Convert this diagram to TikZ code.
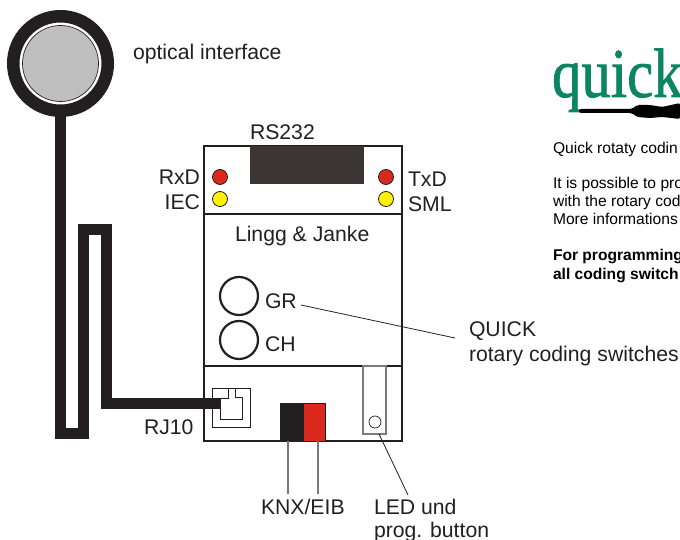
\documentclass[tikz,border=0pt]{standalone}
\usepackage{fontspec}
\setmainfont{Liberation Sans}
\newfontfamily\logofont[FakeBold=1.2]{Liberation Serif}
\definecolor{ink}{HTML}{231F20}
\definecolor{plug}{HTML}{3B3533}
\definecolor{ledred}{HTML}{DC291E}
\definecolor{ledyellow}{HTML}{FFF200}
\definecolor{logogreen}{HTML}{0B8562}
\tikzset{
	lbl/.style={anchor=base west,inner sep=0,outer sep=0,text=ink,font=\fontsize{21.2}{21.2}\selectfont},
	note/.style={anchor=base west,inner sep=0,outer sep=0,text=black,font=\fontsize{15.6}{15.6}\selectfont},
	boldnote/.style={note,font=\bfseries\fontsize{15.6}{15.6}\selectfont},
	led/.style={circle,draw=ink,line width=0.8,minimum size=15,inner sep=0,outer sep=0},
	knob/.style={circle,draw=ink,line width=2.2,minimum size=38,inner sep=0,outer sep=0},
	cable/.style={line width=11,draw=ink,line join=miter,line cap=butt},
	casing/.style={draw=ink,line width=2.2},
	leader/.style={draw=ink,line width=0.8},
	pin/.style={draw=ink!60,line width=1.4},
}
\begin{document}
\begin{tikzpicture}[x=1pt,y=-1pt]
		\path[use as bounding box,clip] (0,0) rectangle (680,540);

		%% optical head
		\node[circle,draw=ink,line width=12.5,fill=white,minimum size=94.5,inner sep=0,outer sep=0] at (60.5,63.5)(ring){};
		\node[circle,draw=ink,line width=0.7,fill=black!25,minimum size=76,inner sep=0,outer sep=0] at (60.5,63.5)(lens){};
		\node[lbl] at (133,59.5)(optical){optical interface};

		%% casing
		\draw[casing] (204,146) rectangle (402,441);
		\draw[casing] (204,214)--(402,214);
		\draw[casing] (204,366)--(402,366);
		\node[fill=plug,minimum width=114,minimum height=38,inner sep=0,outer sep=0] at (307,165)(rs){};
		\node[lbl] at (250,139.5)(rstext){RS232};

		\node[led,fill=ledred] at (220,177)(rxd){};
		\node[led,fill=ledyellow] at (220,199)(iec){};
		\node[led,fill=ledred] at (386,177)(txd){};
		\node[led,fill=ledyellow] at (386,199)(sml){};
		\node[lbl,anchor=base east] at (200,184.5)(rxdtext){RxD};
		\node[lbl,anchor=base east] at (200,210)(iectext){IEC};
		\node[lbl] at (408,186.5)(txdtext){TxD};
		\node[lbl] at (408,211.5)(smltext){SML};
		\node[lbl] at (235,242)(maker){Lingg \& Janke};

		%% switches
		\node[knob] at (239,296)(gr){};
		\node[knob] at (239,340)(ch){};
		\node[lbl] at (265,308)(grtext){GR};
		\node[lbl] at (265,351)(chtext){CH};
		\node[lbl] at (469,336)(quick){QUICK};
		\node[lbl] at (469,361)(rotary){rotary coding switches};
		\coordinate (grend) at (301,305);
		\coordinate (quickend) at (455,338);
		\draw[leader] (grend)--(quickend);

		%% jack and cable
		\node[draw=ink,line width=0.9,minimum width=38,minimum height=39,inner sep=0,outer sep=0] at (231,407.5)(jack){};
		\coordinate (jackin) at (220,403.5);
		\draw[line width=0.9,draw=ink] (220,398)--(228,398)--(228,388)--(235,388)--(235,397)--(242,397)--(242,419)--(220,419)--cycle;
		\node[lbl] at (144,434)(rj){RJ10};
		\draw[cable] (ring.south)--(60.5,433.5)--(83.5,433.5)--(83.5,229.5)--(106.5,229.5)--(106.5,403.5)--(jackin);

		%% bus terminal
		\node[fill=ink,minimum width=23,minimum height=38,inner sep=0,outer sep=0] at (291.5,422)(black){};
		\node[fill=ledred,draw=ink,line width=0.6,minimum width=22,minimum height=38,inner sep=0,outer sep=0] at (314,422)(red){};
		\coordinate (blackend) at (288,494);
		\coordinate (redend) at (318,494);
		\draw[pin] (288,441)--(blackend);
		\draw[pin] (318,441)--(redend);
		\node[lbl] at (261,514)(knx){KNX/EIB};

		%% programming button
		\node[draw=ink!60,line width=1.1,minimum width=23,minimum height=68,inner sep=0,outer sep=0] at (374.5,400)(prog){};
		\node[circle,draw=ink,line width=0.7,minimum size=12,inner sep=0,outer sep=0] at (375,422)(button){};
		\coordinate (progend) at (408,495);
		\draw[leader] (379,434)--(progend);
		\node[lbl] at (374,514)(ledtext){LED und};
		\node[lbl] at (374,537)(progtext){prog. button};

		%% logo
		\node[anchor=base west,inner sep=0,outer sep=0,text=logogreen,font=\logofont\fontsize{70}{70}\selectfont,xscale=0.84] at (552,97)(logo){quick};
		\coordinate (shaft) at (579,111);
		\fill[black,rounded corners=2] (shaft)++(0,-2)--(632,109)--(637,105)--(650,105)--(662,107)--(680,103)--(680,119)--(662,117)--(650,118)--(637,117)--(632,113)--(579,113)--cycle;

		%% cut off text
		\node[note] at (553,154)(n1){Quick rotaty codin};
		\node[note] at (553,189)(n2){It is possible to pro};
		\node[note] at (553,207)(n3){with the rotary cod};
		\node[note] at (553,225)(n4){More informations};
		\node[boldnote] at (553,261)(n5){For programming};
		\node[boldnote] at (553,279)(n6){all coding switch};
	\end{tikzpicture}
\end{document}
